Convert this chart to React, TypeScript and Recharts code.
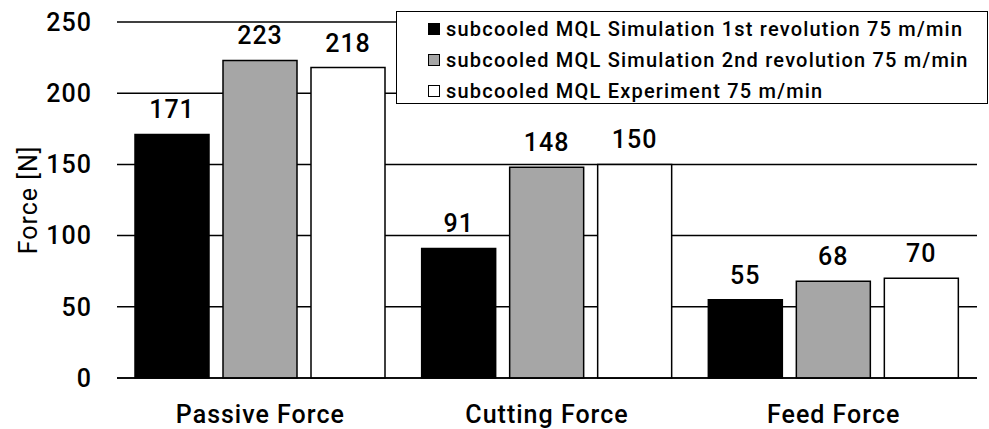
import React from "react"
import { BarChart, Bar, XAxis, YAxis, CartesianGrid, LabelList } from "recharts"

const categories = ["Passive Force", "Cutting Force", "Feed Force"]
const firstRevolution = [171, 91, 55]
const secondRevolution = [223, 148, 68]
const experiment = [218, 150, 70]
const yTicks = [0, 50, 100, 150, 200, 250]

const seriesNames = [
    "subcooled MQL Simulation 1st revolution 75 m/min",
    "subcooled MQL Simulation 2nd revolution 75 m/min",
    "subcooled MQL Experiment 75 m/min",
]
const seriesColors = ["#000000", "#a6a6a6", "#ffffff"]
const seriesKeys = ["first", "second", "experiment"]

const data = categories.map((name, i) => ({
    name,
    first: firstRevolution[i],
    second: secondRevolution[i],
    experiment: experiment[i],
}))

const FONT = "Roboto, sans-serif"
const textStyle = { fill: "#000", fontSize: 25, fontFamily: FONT, fontWeight: 500, letterSpacing: 1 }

// legend drawn as an overlay so it doesn't eat into the plot height
const LegendBox = () => (
    <div
        style={{
            position: "absolute",
            left: 396,
            top: 11,
            width: 592,
            height: 93,
            border: "1.5px solid #000",
            background: "#fff",
            boxSizing: "border-box",
            padding: "1px 0 0 31px",
            fontFamily: FONT,
            fontWeight: 500,
            fontSize: 20,
            letterSpacing: 1.2,
            color: "#000",
        }}
    >
        {seriesNames.map((name, i) => (
            <div key={name} style={{ display: "flex", alignItems: "center", height: 31, whiteSpace: "nowrap" }}>
                <span
                    style={{
                        display: "inline-block",
                        width: 12,
                        height: 12,
                        border: "1.5px solid #000",
                        boxSizing: "border-box",
                        background: seriesColors[i],
                        marginRight: 6,
                        flexShrink: 0,
                    }}
                />
                {name}
            </div>
        ))}
    </div>
)

export default function App() {
    return (
        <div style={{ position: "absolute", left: 0, top: 0, width: 989, height: 429, background: "#fff" }}>
            <BarChart
                width={989}
                height={429}
                data={data}
                margin={{ top: 22, right: 12, left: 0, bottom: 21 }}
                barSize={74}
                barGap={14}
            >
                <CartesianGrid vertical={false} stroke="#000" strokeWidth={1.5} />
                <XAxis
                    dataKey="name"
                    height={30}
                    axisLine={{ stroke: "#000", strokeWidth: 1.5 }}
                    tickLine={false}
                    tickSize={0}
                    tickMargin={27}
                    tick={textStyle}
                />
                <YAxis
                    width={117}
                    domain={[0, 250]}
                    ticks={yTicks}
                    axisLine={false}
                    tickLine={false}
                    tickSize={0}
                    tickMargin={25}
                    tick={textStyle}
                    label={{
                        content: () => (
                            <text
                                x={28}
                                y={200}
                                transform="rotate(-90 28 200)"
                                textAnchor="middle"
                                dominantBaseline="central"
                                style={{ ...textStyle, fontWeight: 400 }}
                            >
                                Force [N]
                            </text>
                        ),
                    }}
                />
                {seriesKeys.map((key, i) => (
                    <Bar
                        key={key}
                        dataKey={key}
                        name={seriesNames[i]}
                        fill={seriesColors[i]}
                        stroke="#000"
                        strokeWidth={1.5}
                        isAnimationActive={false}
                    >
                        <LabelList dataKey={key} position="top" offset={16} style={textStyle} />
                    </Bar>
                ))}
            </BarChart>
            <LegendBox />
        </div>
    )
}
